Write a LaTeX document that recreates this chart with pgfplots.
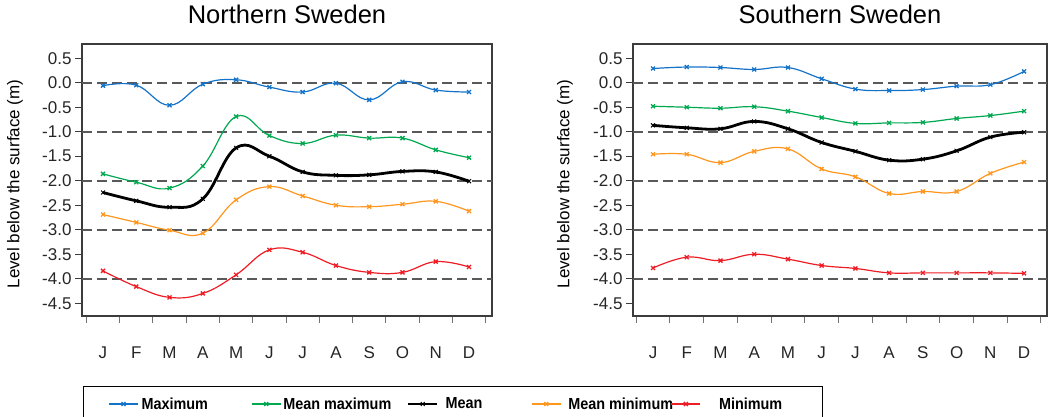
\documentclass[border=0pt]{standalone}
\usepackage{fontspec}
\setmainfont{Liberation Sans}
\newfontfamily\legfont[FakeStretch=0.9]{Liberation Sans}
\usepackage{pgfplots}
\pgfplotsset{compat=1.18}
\definecolor{cmax}{RGB}{20,115,200}
\definecolor{cmmax}{RGB}{0,168,80}
\definecolor{cmmin}{RGB}{255,150,30}
\definecolor{cmin}{RGB}{238,28,36}
\definecolor{axgray}{RGB}{60,60,60}
\pgfplotsset{
  panel/.style={
    scale only axis, height=272pt,
    ymin=-4.76, ymax=0.79,
    axis line style={draw=axgray, line width=1.3pt},
    tick align=outside,
    xtick pos=bottom, ytick pos=left,
    xtick={0.5,1.5,...,12.5}, xticklabels={},
    major tick length=7pt,
    x tick style={draw=black!55, line width=1pt},
    y tick style={draw=axgray, line width=1pt},
    extra x ticks={1,2,...,12},
    extra x tick labels={J,F,M,A,M,J,J,A,S,O,N,D},
    extra x tick style={major tick length=0pt, xticklabel style={anchor=base, yshift=-42pt, font=\fontsize{17}{17}\selectfont, text=black!85}},
    ytick={-4.5,-4,-3.5,-3,-2.5,-2,-1.5,-1,-0.5,0,0.5},
    yticklabels={-4.5,-4.0,-3.5,-3.0,-2.5,-2.0,-1.5,-1.0,-0.5,0.0,0.5},
    yticklabel style={font=\fontsize{17}{17}\selectfont, text=black!85},
    ylabel={Level below the surface (m)},
    ylabel style={font=\fontsize{17}{17}\selectfont, at={(axis description cs:0,0.5)}, anchor=center, xshift=-4pt},
    title style={font=\fontsize{25.5}{26}\selectfont, at={(axis description cs:0.5,1)}, anchor=base, yshift=14.5pt},
    every axis plot/.append style={smooth, tension=0.7, mark=x, mark size=2.8pt, mark options={solid, line width=1.3pt}, line width=1.2pt},
    clip=false,
  },
}
\begin{document}
\begin{tikzpicture}[x=1pt,y=1pt]
\useasboundingbox (0,0) rectangle (1048,416);
\begin{axis}[panel, at={(82pt,100pt)}, anchor=south west, width=410pt,
  xmin=0.369, xmax=12.69,
  title={Northern Sweden},
  ylabel style={yshift=67pt},
  legend columns=5,
  legend style={at={(0.0024,-0.2574)}, anchor=north west, draw=black, line width=0.9pt,
    font=\legfont\bfseries\fontsize{16}{16}\selectfont, inner xsep=25pt, inner ysep=9pt,
    /tikz/every even column/.append style={column sep=0pt}},
  legend cell align=left,
  legend image code/.code={\draw[mark repeat=2,mark phase=2,#1] plot coordinates {(0pt,0pt) (14.5pt,0pt) (29pt,0pt)};},
]
\draw[dashed, dash pattern=on 10pt off 5pt, draw=black!65, line width=1.6pt]
  (axis cs:0.369,0) -- (axis cs:12.69,0)
  (axis cs:0.369,-1) -- (axis cs:12.69,-1)
  (axis cs:0.369,-2) -- (axis cs:12.69,-2)
  (axis cs:0.369,-3) -- (axis cs:12.69,-3)
  (axis cs:0.369,-4) -- (axis cs:12.69,-4);
\addplot[cmax] coordinates {(1,-0.06)(2,-0.05)(3,-0.46)(4,-0.03)(5,0.06)(6,-0.09)(7,-0.19)(8,-0.01)(9,-0.35)(10,0.02)(11,-0.15)(12,-0.19)};
\addlegendentry{\makebox[108.5pt][l]{\hspace{1pt}Maximum}}
\addplot[cmmax] coordinates {(1,-1.86)(2,-2.03)(3,-2.15)(4,-1.70)(5,-0.69)(6,-1.08)(7,-1.24)(8,-1.07)(9,-1.13)(10,-1.13)(11,-1.37)(12,-1.53)};
\addlegendentry{\makebox[121.5pt][l]{Mean maximum}}
\addplot[black, line width=2.8pt, mark options={line width=1pt}] coordinates {(1,-2.24)(2,-2.41)(3,-2.54)(4,-2.37)(5,-1.33)(6,-1.50)(7,-1.82)(8,-1.89)(9,-1.88)(10,-1.81)(11,-1.82)(12,-2.01)};
\addlegendentry{\makebox[88.5pt][l]{\hspace{5pt}Mean}}
\addplot[cmmin] coordinates {(1,-2.69)(2,-2.85)(3,-3.01)(4,-3.07)(5,-2.39)(6,-2.12)(7,-2.31)(8,-2.50)(9,-2.53)(10,-2.48)(11,-2.42)(12,-2.62)};
\addlegendentry{\makebox[105.5pt][l]{\hspace{5pt}Mean minimum}}
\addplot[cmin] coordinates {(1,-3.84)(2,-4.16)(3,-4.38)(4,-4.30)(5,-3.92)(6,-3.41)(7,-3.46)(8,-3.73)(9,-3.87)(10,-3.87)(11,-3.65)(12,-3.76)};
\addlegendentry{\makebox[92pt][l]{\hspace{16pt}Minimum}}
\end{axis}
\begin{axis}[panel, at={(633pt,100pt)}, anchor=south west, width=414pt,
  xmin=0.407, xmax=12.68,
  title={Southern Sweden},
  ylabel style={yshift=68pt},
]
\draw[dashed, dash pattern=on 10pt off 5pt, draw=black!65, line width=1.6pt]
  (axis cs:0.407,0) -- (axis cs:12.68,0)
  (axis cs:0.407,-1) -- (axis cs:12.68,-1)
  (axis cs:0.407,-2) -- (axis cs:12.68,-2)
  (axis cs:0.407,-3) -- (axis cs:12.68,-3)
  (axis cs:0.407,-4) -- (axis cs:12.68,-4);
\addplot[cmax] coordinates {(1,0.29)(2,0.32)(3,0.31)(4,0.27)(5,0.31)(6,0.08)(7,-0.13)(8,-0.16)(9,-0.14)(10,-0.07)(11,-0.04)(12,0.23)};
\addplot[cmmax] coordinates {(1,-0.48)(2,-0.50)(3,-0.52)(4,-0.49)(5,-0.58)(6,-0.71)(7,-0.83)(8,-0.82)(9,-0.81)(10,-0.73)(11,-0.67)(12,-0.58)};
\addplot[black, line width=2.8pt, mark options={line width=1pt}] coordinates {(1,-0.87)(2,-0.92)(3,-0.94)(4,-0.79)(5,-0.94)(6,-1.22)(7,-1.40)(8,-1.58)(9,-1.56)(10,-1.39)(11,-1.11)(12,-1.01)};
\addplot[cmmin] coordinates {(1,-1.46)(2,-1.46)(3,-1.63)(4,-1.40)(5,-1.35)(6,-1.76)(7,-1.92)(8,-2.26)(9,-2.22)(10,-2.22)(11,-1.85)(12,-1.62)};
\addplot[cmin] coordinates {(1,-3.78)(2,-3.56)(3,-3.63)(4,-3.50)(5,-3.60)(6,-3.73)(7,-3.79)(8,-3.88)(9,-3.88)(10,-3.88)(11,-3.88)(12,-3.89)};
\end{axis}
\end{tikzpicture}
\end{document}
